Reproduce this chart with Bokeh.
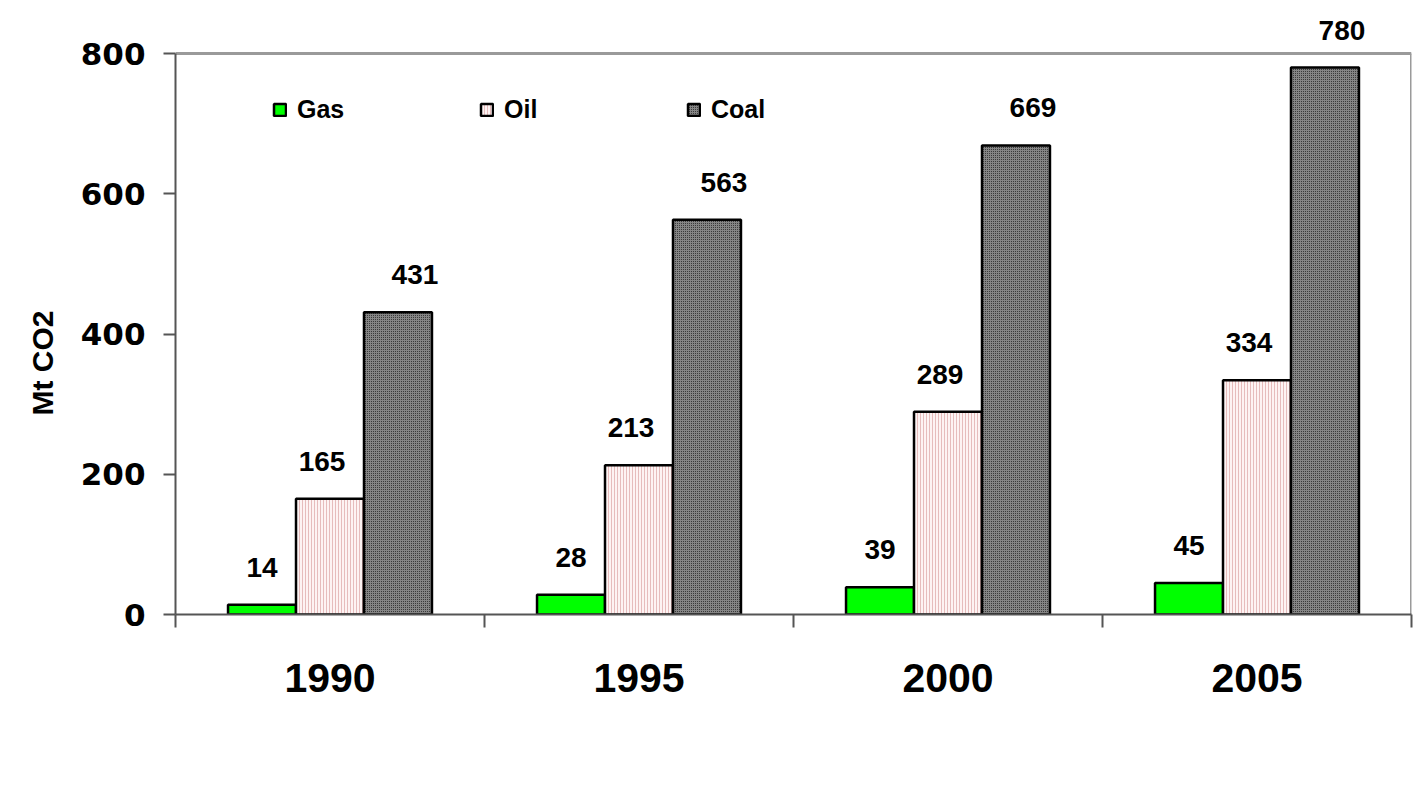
from bokeh.plotting import figure
from bokeh.models import ColumnDataSource, FixedTicker, Legend, LegendItem, Range1d, LabelSet, Title
from bokeh.core.properties import value
from bokeh.embed import file_html
from bokeh.resources import INLINE

years = ["1990", "1995", "2000", "2005"]
fuels = ["Gas", "Oil", "Coal"]
gas = [14, 28, 39, 45]
oil = [165, 213, 289, 334]
coal = [431, 563, 669, 780]
y_ticks = [0, 200, 400, 600, 800]

centers = [i + 0.5 for i in range(len(years))]
y_max = y_ticks[-1]

p = figure(width=1417, height=796, output_backend="svg", toolbar_location=None,
           x_range=Range1d(0, len(years)), y_range=Range1d(0, y_max + 50),
           min_border_left=175, min_border_right=6, min_border_top=18, min_border_bottom=182)
p.grid.visible = False
p.outline_line_color = None
p.background_fill_color = "white"

# plot-area frame lines (top and right), grey
p.segment(x0=[0, len(years)], y0=[y_max, 0], x1=[len(years), len(years)], y1=[y_max, y_max],
          line_color="#9a9a9a", line_width=3)

FONT = "Liberation Sans"
series = [
    (gas, -0.22, 0, dict(fill_color="#00ff00")),
    (oil, 0.0, -8, dict(fill_color="#fdf3f3", hatch_pattern="vertical_line", hatch_color="#e6bcbc",
                        hatch_scale=3, hatch_weight=1)),
    (coal, 0.22, 17, dict(fill_color="#858585", hatch_pattern="dot", hatch_color="#222222",
                          hatch_scale=2, hatch_weight=1)),
]
items = []
for name, (vals, off, lab_dx, style) in zip(fuels, series):
    src = ColumnDataSource(dict(x=[c + off for c in centers], top=vals, lab=[str(v) for v in vals]))
    r = p.vbar(x="x", top="top", width=0.22, source=src, line_color="black", line_width=2.5, **style)
    p.add_layout(LabelSet(x="x", y="top", text="lab", source=src, text_align="center",
                          text_baseline="bottom", x_offset=lab_dx, y_offset=28, text_font=value(FONT),
                          text_font_style="bold", text_font_size="28px", text_color="black"))
    items.append(LegendItem(label=name, renderers=[r]))

legend = Legend(items=items, orientation="horizontal", location=(97, 490),
                border_line_color=None, background_fill_alpha=0, padding=0, margin=0,
                glyph_width=15, glyph_height=15, label_width=62, spacing=120,
                label_text_font=FONT, label_text_font_style="bold", label_text_font_size="25px",
                label_text_color="black", label_standoff=10)
p.add_layout(legend)

# y axis
ya = p.yaxis[0]
ya.ticker = FixedTicker(ticks=y_ticks)
ya.bounds = (0, y_max)
ya.axis_line_color = "#555555"
ya.axis_line_width = 2
ya.major_tick_line_color = "#555555"
ya.major_tick_line_width = 2
ya.major_tick_out = 12
ya.major_tick_in = 0
ya.minor_tick_line_color = None
ya.major_label_text_font = "DejaVu Sans"
ya.major_label_text_font_style = "bold"
ya.major_label_text_font_size = "31px"
ya.major_label_text_color = "black"
ya.major_label_standoff = 18

ytitle = Title(text="Mt CO2", align="left", offset=199, standoff=37,
               text_font=FONT, text_font_style="bold", text_font_size="30px", text_color="black")
p.add_layout(ytitle, "left")

# x axis: year labels at centers, tick marks at category boundaries
xa = p.xaxis[0]
xa.ticker = FixedTicker(ticks=centers, minor_ticks=list(range(len(years) + 1)))
xa.major_label_overrides = {c: y for c, y in zip(centers, years)}
xa.axis_line_color = "#555555"
xa.axis_line_width = 2
xa.major_tick_line_color = None
xa.minor_tick_line_color = "#555555"
xa.minor_tick_line_width = 2
xa.minor_tick_out = 13
xa.minor_tick_in = 0
xa.major_label_text_font = FONT
xa.major_label_text_font_style = "bold"
xa.major_label_text_font_size = "41px"
xa.major_label_text_color = "black"
xa.major_label_standoff = 36

open("out.html", "w").write(file_html(p, INLINE))
